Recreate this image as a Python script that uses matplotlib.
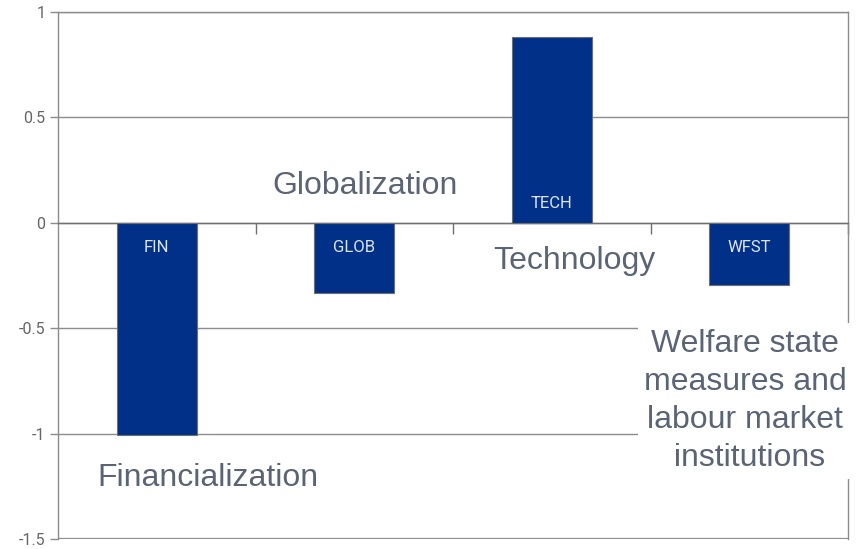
import matplotlib
matplotlib.use('Agg')
import matplotlib.pyplot as plt

# Data
categories = ['FIN', 'GLOB', 'TECH', 'WFST']
values = [-1.007, -0.333, 0.881, -0.295]
y_ticks = [1, 0.5, 0, -0.5, -1, -1.5]
y_tick_labels = ['1', '0.5', '0', '-0.5', '-1', '-1.5']
notes = ['Financialization', 'Globalization', 'Technology',
         'Welfare state\nmeasures and\nlabour market\n institutions']
note_x = [0.259, 1.054, 2.113, 2.978]
note_y = [-1.21, 0.175, -0.181, -0.845]

BAR = '#003087'
GRID = '#8c8c8c'
NOTE = '#5b6474'
narrow = ['Roboto', 'DejaVu Sans']

fig = plt.figure(figsize=(8.56, 5.49), dpi=100)
ax = fig.add_axes([58 / 856, 1 - 539 / 549, 790 / 856, 527 / 549])

x = list(range(len(categories)))
ax.bar(x, values, width=0.405, color=BAR, edgecolor='#6e6e6e', linewidth=0.8, zorder=3)

# bar labels just inside the zero end of each bar
for xi, cat, v in zip(x, categories, values):
    off = -18 if v < 0 else 14
    ax.annotate(cat, (xi, 0), xytext=(0, off), textcoords='offset points',
                ha='center', va='center', color='#dfe4f4', fontsize=12,
                family=narrow, zorder=4)

ax.set_xlim(-0.5, 3.5)
ax.set_ylim(-1.5, 1)
ax.set_yticks(y_ticks)
ax.set_yticklabels(y_tick_labels, family=narrow, fontsize=11.5, color='#666666')
ax.tick_params(axis='y', length=6, width=1.0, color=GRID, pad=3)
ax.yaxis.grid(True, color=GRID, linewidth=1.0, zorder=1)
ax.set_axisbelow(True)

# category axis sits on the zero line
ax.spines['bottom'].set_position(('data', 0))
ax.set_xticks([0.5, 1.5, 2.5, 3.5])
ax.set_xticklabels([])
ax.tick_params(axis='x', length=8, width=1.0, color='#707070', direction='out')
for s in ['left', 'right', 'top', 'bottom']:
    ax.spines[s].set_color(GRID)
    ax.spines[s].set_linewidth(1.0)
ax.spines['bottom'].set_color('#707070')
ax.axhline(-1.5, color=GRID, linewidth=1.6, zorder=2)

for t, nx, ny in zip(notes, note_x, note_y):
    bbox = None
    if t.startswith('Welfare'):
        bbox = dict(facecolor='white', edgecolor='none', pad=4)
    ax.text(nx, ny, t, ha='center', va='center', fontsize=23, color=NOTE,
            family='Liberation Sans', linespacing=1.36, zorder=5, bbox=bbox,
            clip_on=False)

fig.savefig('out.png', dpi=100)
